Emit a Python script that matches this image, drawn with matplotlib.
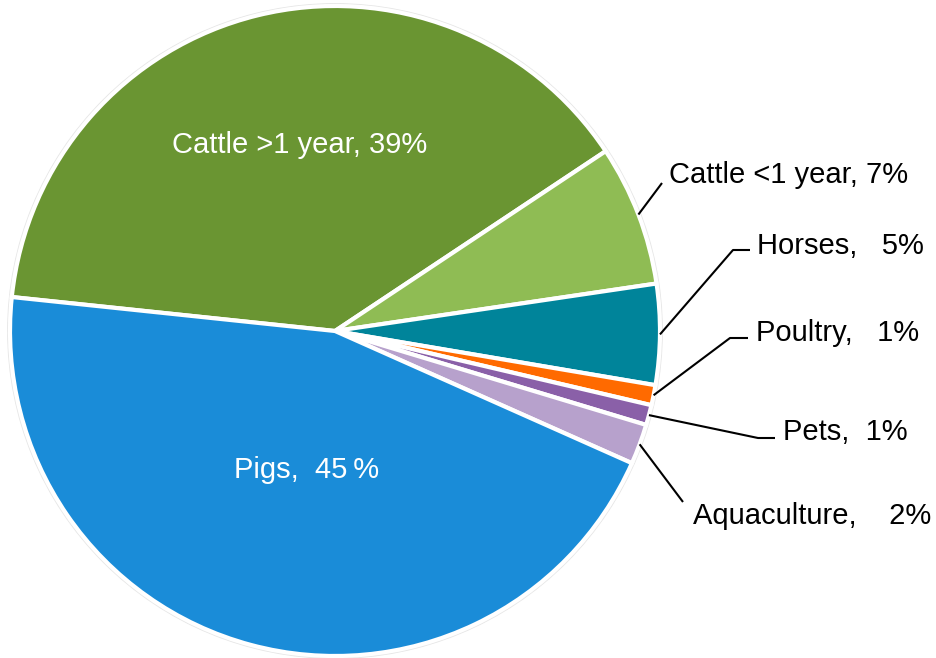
import numpy as np
import matplotlib.pyplot as plt
from matplotlib.patches import Circle

plt.rcParams['font.family'] = ['Liberation Sans', 'DejaVu Sans']

# share of use by animal group, clockwise from the left
categories = ['Cattle >1 year', 'Cattle <1 year', 'Horses', 'Poultry', 'Pets', 'Aquaculture', 'Pigs']
shares = [39, 7, 5, 1, 1, 2, 45]
labels = ['Cattle >1 year, 39%', 'Cattle <1 year, 7%', 'Horses,   5%', 'Poultry,   1%',
          'Pets,  1%', 'Aquaculture,    2%', 'Pigs,  45\u2009%']
colors = ['#6A9532', '#8FBC54', '#00849A', '#FF6A00', '#8A60A8', '#B7A1CC', '#1A8CD8']

W, H = 937, 658
fig = plt.figure(figsize=(W / 100, H / 100), dpi=100)
ax = fig.add_axes([0, 0, 1, 1])

cx, cy, r = 335, H - 331, 325
start = 174
fs = 21

# faint outline round the pie
ax.add_patch(Circle((cx, cy), r + 1.5, facecolor='none', edgecolor='#e6e6e6', lw=2, zorder=0))

wedges, _ = ax.pie(shares, colors=colors, startangle=start, counterclock=False,
                   center=(cx, cy), radius=r, frame=True,
                   wedgeprops=dict(edgecolor='white', linewidth=3))
ax.set_xlim(0, W)
ax.set_ylim(0, H)
ax.set_aspect('equal')
ax.axis('off')

# labels inside the two big slices
ax.text(300, H - 145, labels[0], color='white', fontsize=fs, ha='center', va='center')
ax.text(307, H - 470, labels[6], color='white', fontsize=fs, ha='center', va='center')

# outside labels: elbow point, end of leader, text anchor (pixel coords from top)
outer = {
    1: ((662, 183), (662, 183), (669, 175)),
    2: ((733, 250), (750, 250), (757, 246)),
    3: ((730, 338), (748, 338), (756, 333)),
    4: ((758, 438), (775, 438), (783, 432)),
    5: ((683, 502), (683, 502), (693, 516)),
}

bounds = np.cumsum([0] + shares)
for i, (elbow, end, txt) in outer.items():
    mid = start - (bounds[i] + bounds[i + 1]) / 2 / 100 * 360
    a = np.radians(mid)
    x0, y0 = cx + r * np.cos(a), cy + r * np.sin(a)
    ax.plot([x0, elbow[0], end[0]], [y0, H - elbow[1], H - end[1]],
            color='black', lw=1.5, solid_capstyle='butt')
    ax.text(txt[0], H - txt[1], labels[i], color='black', fontsize=fs,
            ha='left', va='center')

fig.savefig('out.png', dpi=100)
